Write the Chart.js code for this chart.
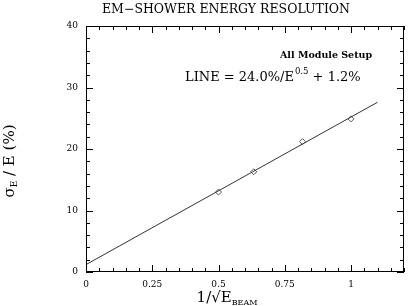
<!DOCTYPE html>
<html><head><meta charset="utf-8">
<script src="https://cdn.jsdelivr.net/npm/chart.js@4/dist/chart.umd.min.js"></script>
<style>html,body{margin:0;padding:0;background:#fff}#w{width:409px;height:306px;position:relative}</style>
</head><body><div id="w"><canvas id="c"></canvas></div>
<script>
// ---- data ----
const chartTitle = "EM\u2212SHOWER ENERGY RESOLUTION";
const pointX = [0.5, 0.633, 0.817, 1.0];
const pointY = [13.0, 16.3, 21.2, 24.9];
const fitLineX = [0, 1.1];
const fitLineY = [1.2, 27.6];
const xTickValues = [0, 0.25, 0.5, 0.75, 1];
const xTickLabels = ["0", "0.25", "0.5", "0.75", "1"];
const yTickValues = [0, 10, 20, 30, 40];
const yTickLabels = ["0", "10", "20", "30", "40"];
const xMinorTicks = [0,0.05,0.1,0.15,0.2,0.25,0.3,0.35,0.4,0.45,0.5,0.55,0.6,0.65,0.7,0.75,0.8,0.85,0.9,0.95,1,1.05,1.1,1.15,1.2];
const yMinorTicks = [0,2,4,6,8,10,12,14,16,18,20,22,24,26,28,30,32,34,36,38,40];
const annotationSetup = "All Module Setup";
const annotationFit = ["LINE = 24.0%/E", "0.5", " + 1.2%"];

const SERIF = '"DejaVu Serif", "Liberation Serif", serif';

const overlay = {
  id: 'overlay',
  afterDraw(chart) {
    const ctx = chart.ctx, a = chart.chartArea;
    const xs = chart.scales.x, ys = chart.scales.y;
    ctx.save();
    // frame
    ctx.strokeStyle = '#000'; ctx.lineWidth = 1;
    ctx.strokeRect(a.left + 0.5, a.top + 0.5, a.right - a.left - 1, a.bottom - a.top - 1);
    // ticks
    ctx.beginPath();
    xMinorTicks.forEach(v => {
      const major = xTickValues.some(t => Math.abs(t - v) < 1e-9);
      const L = major ? 7 : 4;
      const px = Math.round(xs.getPixelForValue(v)) + 0.5;
      ctx.moveTo(px, a.bottom); ctx.lineTo(px, a.bottom - L);
      ctx.moveTo(px, a.top); ctx.lineTo(px, a.top + L);
    });
    yMinorTicks.forEach(v => {
      const major = yTickValues.some(t => Math.abs(t - v) < 1e-9);
      const L = major ? 7 : 4;
      const py = Math.round(ys.getPixelForValue(v)) + 0.5;
      ctx.moveTo(a.left, py); ctx.lineTo(a.left + L, py);
      ctx.moveTo(a.right, py); ctx.lineTo(a.right - L, py);
    });
    ctx.stroke();
    ctx.fillStyle = '#000';
    // title
    ctx.font = '12.5px ' + SERIF;
    ctx.textAlign = 'center'; ctx.textBaseline = 'alphabetic';
    ctx.fillText(chartTitle, 226, 13);
    // annotations
    ctx.textAlign = 'left';
    ctx.font = 'bold 9.5px ' + SERIF;
    ctx.fillText(annotationSetup, 280, 58);
    let x = 185; const by = 81;
    ctx.font = '13px ' + SERIF;
    ctx.fillText(annotationFit[0], x, by); x += ctx.measureText(annotationFit[0]).width + 1;
    ctx.font = '8.5px ' + SERIF;
    ctx.fillText(annotationFit[1], x, by - 7); x += ctx.measureText(annotationFit[1]).width;
    ctx.font = '13px ' + SERIF;
    ctx.fillText(annotationFit[2], x, by);
    // x axis title
    ctx.font = '15px ' + SERIF;
    const t1 = "1/\u221AE", t2 = "BEAM";
    const w1 = ctx.measureText(t1).width;
    ctx.font = '8px ' + SERIF;
    const w2 = ctx.measureText(t2).width;
    let sx = 227 - (w1 + w2) / 2;
    ctx.font = '15px ' + SERIF;
    ctx.fillText(t1, sx, 302);
    ctx.font = '8px ' + SERIF;
    ctx.fillText(t2, sx + w1, 305);
    // y axis title (rotated)
    ctx.translate(14, 161);
    ctx.rotate(-Math.PI / 2);
    const p1 = "\u03C3", p2 = "E", p3 = " / E (%)";
    ctx.font = '15px ' + SERIF; const q1 = ctx.measureText(p1).width; const q3 = ctx.measureText(p3).width;
    ctx.font = '9px ' + SERIF; const q2 = ctx.measureText(p2).width;
    let yx = -(q1 + q2 + q3) / 2;
    ctx.font = '15px ' + SERIF; ctx.fillText(p1, yx, 0); yx += q1;
    ctx.font = '9px ' + SERIF; ctx.fillText(p2, yx, 3); yx += q2;
    ctx.font = '15px ' + SERIF; ctx.fillText(p3, yx, 0);
    ctx.restore();
  }
};

new Chart(document.getElementById('c'), {
  type: 'scatter',
  data: {
    datasets: [
      {
        type: 'line',
        data: fitLineX.map((x, i) => ({ x, y: fitLineY[i] })),
        borderColor: '#333', borderWidth: 1, pointRadius: 0, fill: false, tension: 0
      },
      {
        data: pointX.map((x, i) => ({ x, y: pointY[i] })),
        pointStyle: 'rectRot', pointRadius: 3, borderColor: '#555', borderWidth: 1,
        backgroundColor: 'rgba(255,255,255,0)'
      }
    ]
  },
  options: {
    responsive: true, maintainAspectRatio: false, devicePixelRatio: 1, animation: false,
    layout: { padding: { top: 26, right: 1, left: 0, bottom: 0 } },
    plugins: { legend: { display: false }, tooltip: { enabled: false }, title: { display: false } },
    scales: {
      x: {
        type: 'linear', min: 0, max: 1.2,
        afterBuildTicks: s => { s.ticks = xTickValues.map(v => ({ value: v })); },
        afterFit: s => { s.height = 34; },
        grid: { display: false, drawTicks: false }, border: { display: false },
        ticks: { padding: 7, maxRotation: 0, color: '#000', font: { family: SERIF, size: 9 },
          callback: (v) => xTickLabels[xTickValues.indexOf(v)] }
      },
      y: {
        type: 'linear', min: 0, max: 40,
        afterBuildTicks: s => { s.ticks = yTickValues.map(v => ({ value: v })); },
        afterFit: s => { s.width = 86; },
        grid: { display: false, drawTicks: false }, border: { display: false },
        ticks: { padding: 8, color: '#000', font: { family: SERIF, size: 9 },
          callback: (v) => yTickLabels[yTickValues.indexOf(v)] }
      }
    }
  },
  plugins: [overlay]
});
</script>
</body></html>
